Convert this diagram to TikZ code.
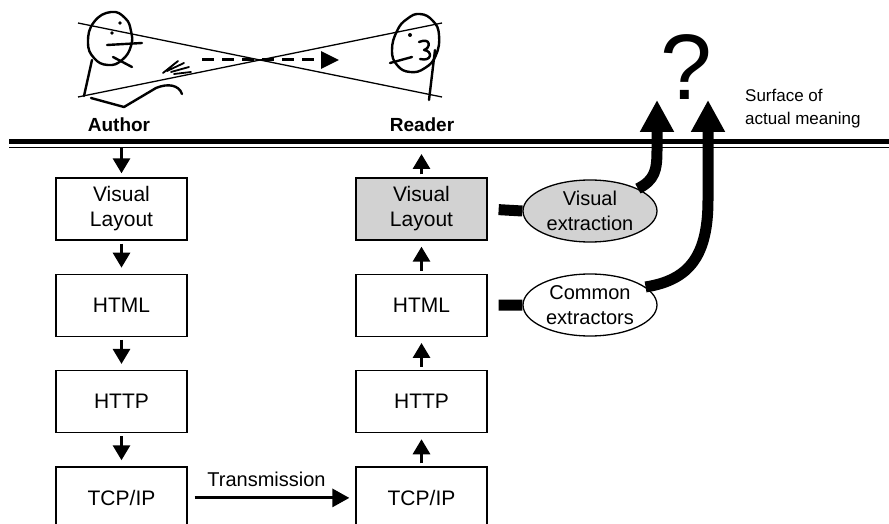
\documentclass[tikz,border=0pt]{standalone}
\usepackage{fontspec}
\setmainfont{Liberation Sans}
\usetikzlibrary{arrows.meta,positioning,shapes.geometric}
\definecolor{shade}{RGB}{210,210,210}
\begin{document}
\begin{tikzpicture}[x=1pt, y=-1pt, >={Triangle[width=17pt,length=15pt]}]
        \tikzstyle{box}=[rectangle, draw=black, line width=1.3pt, minimum width=131pt, minimum height=62pt, align=center, font=\fontsize{21}{25}\selectfont]
        \tikzstyle{oval}=[ellipse, draw=black, line width=1.3pt, minimum width=134pt, minimum height=62pt, inner sep=0pt, align=center, font=\fontsize{20}{25}\selectfont]
        \tikzstyle{flow}=[line width=3pt, shorten <=3pt, shorten >=6pt]
        \tikzstyle{link}=[line width=11pt, shorten <=11pt]
        \tikzstyle{rise}=[line width=11pt, -{Triangle[width=32pt,length=32pt]}]
        \tikzstyle{sketch}=[line width=2.4pt, line cap=round, line join=round]
        \useasboundingbox (0,0) rectangle (889,524);

        % Surface of actual meaning
        \draw[line width=5pt] (9,142) -- (889,142);
        \draw[line width=1.3pt] (9,147.5) -- (889,147.5);

        % Author and reader
        \draw[sketch] plot[smooth cycle, tension=0.8] coordinates {(111,12) (125,18) (131,31) (131,46) (122,60) (108,65) (94,58) (88,42) (94,22)};
        \fill (120,23) circle (1.8pt);
        \fill (112,33) circle (1.8pt);
        \draw[sketch] (107,45) -- (142,43);
        \draw[sketch] (113,57) -- (132,67);
        \draw[sketch] (92,60) -- (84,96);
        \draw[sketch] (91,98) -- (124,107) -- (156,88) .. controls (168,83) and (179,85) .. (182,94);
        \draw[sketch, line width=1.8pt] (163,73) -- (178,61) (167,71) -- (184,63) (171,72) -- (189,67) (174,74) -- (191,72);
        \draw[sketch] plot[smooth cycle, tension=0.8] coordinates {(420,14) (433,21) (439,35) (436,55) (425,68) (410,72) (397,65) (392,50) (397,31) (407,19)};
        \fill (410,35) circle (2pt);
        \draw[sketch] (419,42) .. controls (431,37) and (431,48) .. (424,50) .. controls (433,51) and (432,62) .. (420,59);
        \draw[sketch] (390,63) -- (412,57);
        \draw[sketch] (435,50) -- (429,100);
        \draw[line width=1.3pt] (78,23) -- (442,97);
        \draw[line width=1.3pt] (78,97) -- (442,23);
        \coordinate (hand) at (202,60);
        \coordinate (eye) at (339,60);
        \draw[->, line width=3pt, dash pattern=on 12pt off 8pt, >={Triangle[width=17pt,length=18pt]}] (hand) -- (eye);
        \node[anchor=base, font=\bfseries\fontsize{19}{22}\selectfont] (author) at (119,132) {Author};
        \node[anchor=base, font=\bfseries\fontsize{19}{22}\selectfont] (reader) at (422,132) {Reader};

        % Nodes
        \node[box] (al) at (121.5,209) {Visual\\Layout};
        \node[box, below=33pt of al] (ah) {HTML};
        \node[box, below=33pt of ah] (ap) {HTTP};
        \node[box, below=33pt of ap] (at) {TCP/IP};
        \node[box, fill=shade] (rl) at (421.5,209) {Visual\\Layout};
        \node[box, below=33pt of rl] (rh) {HTML};
        \node[box, below=33pt of rh] (rp) {HTTP};
        \node[box, below=33pt of rp] (rt) {TCP/IP};
        \node[oval, fill=shade] (vx) at (590,211) {Visual\\extraction};
        \node[oval] (cx) at (590,305) {Common\\extractors};
        \coordinate (ain) at (121.5,148);
        \coordinate (rout) at (421.5,154);

        % Stack arrows
        \draw[->, flow, shorten <=0pt, shorten >=4pt] (ain) -- (al);
        \draw[->, flow] (al) -- (ah);
        \draw[->, flow] (ah) -- (ap);
        \draw[->, flow] (ap) -- (at);
        \draw[->, flow] (rt) -- (rp);
        \draw[->, flow] (rp) -- (rh);
        \draw[->, flow] (rh) -- (rl);
        \draw[->, flow, shorten >=0pt] (rl) -- (rout);
        \draw[->, line width=3pt, shorten <=7pt, shorten >=6pt, >={Triangle[width=18pt,length=17pt]}]
            (at) -- node[midway, above=6pt, xshift=-5pt, font=\fontsize{20}{24}\selectfont] {Transmission} (rt);

        % Extractors
        \draw[link] (rl.east) -- (vx.west);
        \draw[link] (rh.east) -- (cx.west);
        \coordinate (m1) at (657,100);
        \coordinate (m2) at (708,100);
        \draw[rise] (vx.25) .. controls (655,180) and (657,170) .. (657,150) -- (m1);
        \draw[rise] (cx.18) .. controls (690,280) and (708,255) .. (708,200) -- (m2);
        \node[anchor=base, font=\fontsize{93}{93}\selectfont] (qm) at (686,100) {?};
        \node[anchor=west, inner sep=0pt, align=left, font=\fontsize{17}{23}\selectfont] (surf) at (745,109) {Surface of\\actual meaning};
\end{tikzpicture}
\end{document}
